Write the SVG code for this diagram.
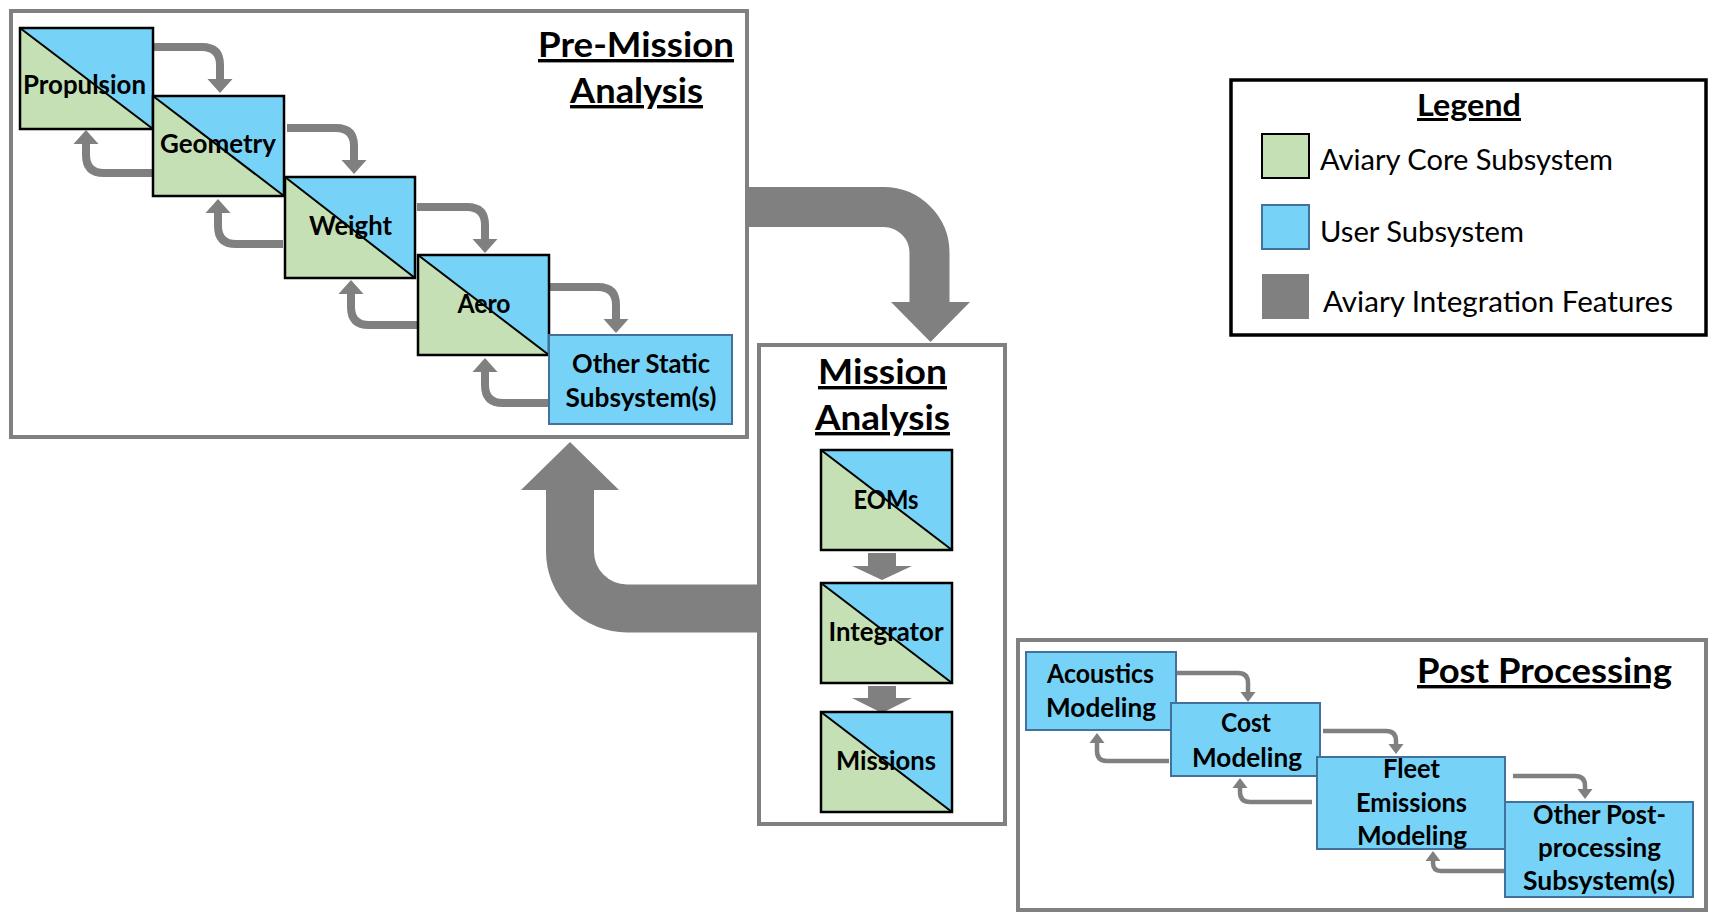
<svg xmlns="http://www.w3.org/2000/svg" width="1715" height="919" viewBox="0 0 1715 919">
<style>
  text { font-family: "Lato", "Liberation Sans", sans-serif; fill: #000; }
  .lbl { font-size: 26px; font-weight: bold; text-anchor: middle; }
  .ttl { font-size: 34px; font-weight: bold; text-anchor: middle; text-decoration: underline; text-decoration-thickness: 3px; text-underline-offset: 4px; }
  .leg { font-size: 29px; }
  .frame { fill: #fff; stroke: #808080; stroke-width: 4; }
  .core { fill: #C5E0B4; }
  .user { fill: #76D3F7; }
  .edge { fill: none; stroke: #000; stroke-width: 2.5; }
  .diag { stroke: #000; stroke-width: 2; }
  .ubox { fill: #76D3F7; stroke: #41719C; stroke-width: 2; }
  .conn { fill: none; stroke: #808080; stroke-width: 8; }
  .conn2 { fill: none; stroke: #808080; stroke-width: 4.5; }
  .big { fill: none; stroke: #808080; }
  .head { fill: #808080; }
</style>
<defs>
  <marker id="ah" markerUnits="userSpaceOnUse" markerWidth="16" markerHeight="26" refX="0" refY="12.5" orient="auto" overflow="visible">
    <path d="M0,0 L14,12.5 L0,25 z" fill="#808080"/>
  </marker>
  <marker id="ah2" markerUnits="userSpaceOnUse" markerWidth="12" markerHeight="16" refX="0" refY="7.5" orient="auto" overflow="visible">
    <path d="M0,0 L10,7.5 L0,15 z" fill="#808080"/>
  </marker>
</defs>

<!-- Frames -->
<g id="pre-mission">
  <rect class="frame" x="11" y="11" width="736" height="426"/>
  <text class="ttl" x="636" y="57" textLength="196" lengthAdjust="spacingAndGlyphs">Pre-Mission</text>
  <text class="ttl" x="636.5" y="103" textLength="133" lengthAdjust="spacingAndGlyphs">Analysis</text>
</g>
<g id="mission">
  <rect class="frame" x="759" y="345" width="246" height="479"/>
  <text class="ttl" x="882.5" y="384" textLength="129" lengthAdjust="spacingAndGlyphs">Mission</text>
  <text class="ttl" x="882.5" y="430" textLength="135" lengthAdjust="spacingAndGlyphs">Analysis</text>
</g>
<g id="post-processing">
  <rect class="frame" x="1018" y="640" width="688" height="270"/>
  <text class="ttl" x="1544.5" y="683" textLength="255" lengthAdjust="spacingAndGlyphs">Post Processing</text>
</g>

<!-- Connectors -->
<g id="connectors">
  <!-- big integration arrows -->
  <path class="big" stroke-width="40" d="M747,207 H883.5 A46,46 0 0 1 929.5,253 V303"/>
  <polygon class="head" points="891,302 970,302 930.5,342"/>
  <path class="big" stroke-width="48" d="M759,608.5 H627 A57,57 0 0 1 570,551.5 V489"/>
  <polygon class="head" points="521,490 619,490 570,442"/>
  <!-- mission block arrows -->
  <polygon class="head" points="868,553 896,553 896,566 912,566 882,580 852,566 868,566"/>
  <polygon class="head" points="868,686 896,686 896,698 912,698 882,713 852,698 868,698"/>
  <!-- pre-mission forward -->
  <path class="conn" marker-end="url(#ah)" d="M154,47 H202 Q220,47 220,65 V79"/>
  <path class="conn" marker-end="url(#ah)" d="M287,128 H336 Q354,128 354,146 V160"/>
  <path class="conn" marker-end="url(#ah)" d="M417,207 H467 Q485,207 485,225 V239"/>
  <path class="conn" marker-end="url(#ah)" d="M549,287 H598 Q616,287 616,305 V319"/>
  <!-- pre-mission backward -->
  <path class="conn" marker-end="url(#ah)" d="M153,173 H104 Q86,173 86,155 V144"/>
  <path class="conn" marker-end="url(#ah)" d="M283,244 H236 Q218,244 218,226 V213"/>
  <path class="conn" marker-end="url(#ah)" d="M418,325 H369 Q351,325 351,307 V294"/>
  <path class="conn" marker-end="url(#ah)" d="M549,403 H503 Q485,403 485,385 V372"/>
  <!-- post forward -->
  <path class="conn2" marker-end="url(#ah2)" d="M1177,673 H1238 Q1248,673 1248,683 V692"/>
  <path class="conn2" marker-end="url(#ah2)" d="M1323,731 H1386 Q1396,731 1396,741 V744"/>
  <path class="conn2" marker-end="url(#ah2)" d="M1513,776 H1575 Q1585,776 1585,786 V789"/>
  <!-- post backward -->
  <path class="conn2" marker-end="url(#ah2)" d="M1169,761 H1107 Q1097,761 1097,751 V743"/>
  <path class="conn2" marker-end="url(#ah2)" d="M1312,802 H1250 Q1240,802 1240,792 V788"/>
  <path class="conn2" marker-end="url(#ah2)" d="M1505,871 H1441 Q1433,871 1433,863 V861"/>
</g>

<!-- Pre-mission nodes -->
<g id="propulsion">
  <polygon class="core" points="20,28 153,129 20,129"/>
  <polygon class="user" points="20,28 153,28 153,129"/>
  <line class="diag" x1="20" y1="28" x2="153" y2="129"/>
  <rect class="edge" x="20" y="28" width="133" height="101"/>
  <text class="lbl" x="84.5" y="94" textLength="123" lengthAdjust="spacingAndGlyphs">Propulsion</text>
</g>
<g id="geometry">
  <polygon class="core" points="153,96 284,196 153,196"/>
  <polygon class="user" points="153,96 284,96 284,196"/>
  <line class="diag" x1="153" y1="96" x2="284" y2="196"/>
  <rect class="edge" x="153" y="96" width="131" height="100"/>
  <text class="lbl" x="218" y="153" textLength="116" lengthAdjust="spacingAndGlyphs">Geometry</text>
</g>
<g id="weight">
  <polygon class="core" points="285,177 415,278 285,278"/>
  <polygon class="user" points="285,177 415,177 415,278"/>
  <line class="diag" x1="285" y1="177" x2="415" y2="278"/>
  <rect class="edge" x="285" y="177" width="130" height="101"/>
  <text class="lbl" x="350.5" y="235" textLength="83" lengthAdjust="spacingAndGlyphs">Weight</text>
</g>
<g id="aero">
  <polygon class="core" points="418,255 549,355 418,355"/>
  <polygon class="user" points="418,255 549,255 549,355"/>
  <line class="diag" x1="418" y1="255" x2="549" y2="355"/>
  <rect class="edge" x="418" y="255" width="131" height="100"/>
  <text class="lbl" x="484" y="313" textLength="53" lengthAdjust="spacingAndGlyphs">Aero</text>
</g>
<g id="other-static">
  <rect class="ubox" x="549" y="335" width="183" height="89"/>
  <text class="lbl" x="641" y="373" textLength="138" lengthAdjust="spacingAndGlyphs">Other Static</text>
  <text class="lbl" x="641" y="407" textLength="151" lengthAdjust="spacingAndGlyphs">Subsystem(s)</text>
</g>

<!-- Mission nodes -->
<g id="eoms">
  <polygon class="core" points="821,450 952,550 821,550"/>
  <polygon class="user" points="821,450 952,450 952,550"/>
  <line class="diag" x1="821" y1="450" x2="952" y2="550"/>
  <rect class="edge" x="821" y="450" width="131" height="100"/>
  <text class="lbl" x="886" y="509" textLength="65" lengthAdjust="spacingAndGlyphs">EOMs</text>
</g>
<g id="integrator">
  <polygon class="core" points="821,583 952,683 821,683"/>
  <polygon class="user" points="821,583 952,583 952,683"/>
  <line class="diag" x1="821" y1="583" x2="952" y2="683"/>
  <rect class="edge" x="821" y="583" width="131" height="100"/>
  <text class="lbl" x="886" y="641" textLength="115" lengthAdjust="spacingAndGlyphs">Integrator</text>
</g>
<g id="missions">
  <polygon class="core" points="821,712 952,812 821,812"/>
  <polygon class="user" points="821,712 952,712 952,812"/>
  <line class="diag" x1="821" y1="712" x2="952" y2="812"/>
  <rect class="edge" x="821" y="712" width="131" height="100"/>
  <text class="lbl" x="886" y="770" textLength="100" lengthAdjust="spacingAndGlyphs">Missions</text>
</g>

<!-- Post-processing nodes -->
<g id="acoustics">
  <rect class="ubox" x="1026" y="652" width="150" height="78"/>
  <text class="lbl" x="1100.5" y="683" textLength="107" lengthAdjust="spacingAndGlyphs">Acoustics</text>
  <text class="lbl" x="1101" y="717" textLength="110" lengthAdjust="spacingAndGlyphs">Modeling</text>
</g>
<g id="cost">
  <rect class="ubox" x="1171" y="703" width="149" height="73"/>
  <text class="lbl" x="1246" y="732" textLength="50" lengthAdjust="spacingAndGlyphs">Cost</text>
  <text class="lbl" x="1247" y="767" textLength="110" lengthAdjust="spacingAndGlyphs">Modeling</text>
</g>
<g id="fleet">
  <rect class="ubox" x="1317" y="757" width="188" height="92"/>
  <text class="lbl" x="1411.5" y="778" textLength="57" lengthAdjust="spacingAndGlyphs">Fleet</text>
  <text class="lbl" x="1411.5" y="812" textLength="111" lengthAdjust="spacingAndGlyphs">Emissions</text>
  <text class="lbl" x="1412" y="845" textLength="110" lengthAdjust="spacingAndGlyphs">Modeling</text>
</g>
<g id="other-post">
  <rect class="ubox" x="1505" y="802" width="188" height="95"/>
  <text class="lbl" x="1599.5" y="824" textLength="133" lengthAdjust="spacingAndGlyphs">Other Post-</text>
  <text class="lbl" x="1599.5" y="857" textLength="123" lengthAdjust="spacingAndGlyphs">processing</text>
  <text class="lbl" x="1599" y="890" textLength="152" lengthAdjust="spacingAndGlyphs">Subsystem(s)</text>
</g>

<!-- Legend -->
<g id="legend">
  <rect x="1231" y="80" width="475" height="255" fill="#fff" stroke="#000" stroke-width="3.5"/>
  <text class="ttl" x="1469" y="116" textLength="104" lengthAdjust="spacingAndGlyphs" style="font-size:30px">Legend</text>
  <rect x="1262" y="134" width="47" height="44" fill="#C5E0B4" stroke="#000" stroke-width="2"/>
  <text class="leg" x="1320" y="170" textLength="293" lengthAdjust="spacingAndGlyphs">Aviary Core Subsystem</text>
  <rect x="1262" y="205" width="47" height="44" fill="#76D3F7" stroke="#41719C" stroke-width="2"/>
  <text class="leg" x="1320" y="242" textLength="204" lengthAdjust="spacingAndGlyphs">User Subsystem</text>
  <rect x="1262" y="274" width="47" height="45" fill="#808080"/>
  <text class="leg" x="1323" y="312" textLength="350" lengthAdjust="spacingAndGlyphs">Aviary Integration Features</text>
</g>
</svg>
